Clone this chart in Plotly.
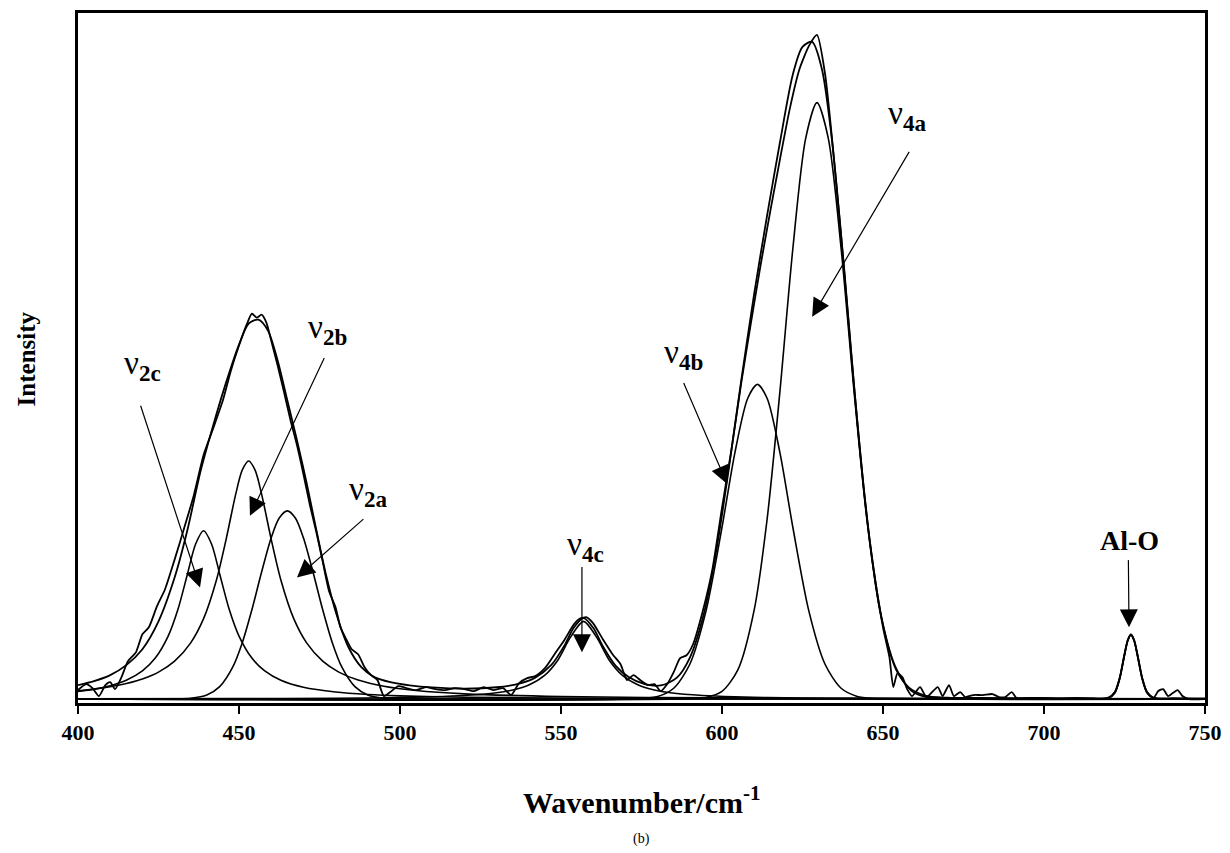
import plotly.graph_objects as go

# ---------------- data (wavenumber in cm-1, intensity in arbitrary units) ----------------
nu2c_x = [400, 405, 410, 415, 420, 424, 428, 431, 434, 436.5, 439, 441.5, 444, 447, 450, 454, 458, 463, 470, 480, 490, 500, 520, 550, 600, 650, 700, 750]
nu2c_y = [7.7, 9.9, 13.4, 18.8, 28.2, 41.1, 63.2, 89.6, 125.6, 155.5, 169, 155.5, 125.6, 89.6, 63.2, 41.1, 28.2, 18.8, 11.8, 7.0, 4.6, 3.2, 1.8, 1.0, 0.5, 0.3, 0.2, 0.1]

nu2b_x = [400, 405, 410, 415, 420, 425, 430, 435, 439, 443, 446, 449, 451, 453, 455, 457, 460, 463, 467, 471, 476, 481, 487, 495, 505, 520, 550, 600, 650, 700, 750]
nu2b_y = [8.2, 9.9, 12.3, 15.5, 20.1, 27.0, 38.0, 56.4, 80.7, 119.5, 160.4, 206, 229.8, 239, 229.8, 206, 160.4, 119.5, 80.7, 56.4, 38.0, 27.0, 19.0, 12.8, 8.5, 5.2, 2.5, 1.1, 0.6, 0.4, 0.3]

nu2a_x = [400, 430, 435, 440, 444, 448, 451, 454, 457, 460, 462.5, 465, 467.5, 470, 473, 476, 479, 482, 486, 490, 495, 500, 750]
nu2a_y = [0, 0.1, 0.7, 4.0, 12.4, 31.7, 56.3, 89.6, 127.3, 162, 181.8, 189, 181.8, 162, 127.3, 89.6, 56.3, 31.7, 12.4, 4.0, 0.7, 0.1, 0]

nu4c_x = [400, 450, 480, 500, 510, 520, 530, 535, 540, 545, 549, 553, 557, 561, 565, 569, 574, 579, 584, 594, 604, 614, 634, 660, 700, 750]
nu4c_y = [0.2, 0.4, 0.8, 1.5, 2.2, 3.5, 6.3, 9.1, 14.1, 24.0, 39.0, 62.4, 78, 62.4, 39.0, 24.0, 14.1, 9.1, 6.3, 3.5, 2.2, 1.5, 0.8, 0.5, 0.2, 0.1]

nu4b_x = [400, 570, 580, 585, 590, 595, 600, 604, 608, 611, 614, 618, 622, 627, 632, 637, 642, 647, 655, 750]
nu4b_y = [0, 0, 2.6, 10.8, 34.9, 88, 172.5, 247.3, 302.1, 316, 302.1, 247.3, 172.5, 88, 34.9, 10.8, 2.6, 0.5, 0, 0]

nu4a_x = [400, 590, 595, 600, 605, 610, 614, 618, 622, 626, 629.5, 633, 637, 641, 645, 649, 654, 659, 664, 670, 750]
nu4a_y = [0, 0.2, 1.6, 7.7, 29.8, 89.5, 180.3, 309.2, 452.2, 563.4, 599, 563.4, 452.2, 309.2, 180.3, 89.5, 29.8, 7.7, 1.6, 0.2, 0]

alo_x = [400, 715, 720, 722, 723.5, 725, 726, 727, 728, 729, 730.5, 732, 734, 740, 750]
alo_y = [0, 0, 0.6, 6.0, 20.1, 43.9, 58.2, 64, 58.2, 43.9, 20.1, 6.0, 0.6, 0, 0]

fit_x = [400, 405, 410, 415, 420, 425, 430, 434, 438, 442, 446, 450, 453, 456, 459, 462, 465, 468, 471, 474,
         477, 480, 484, 488, 492, 497, 503, 510, 520, 530, 537, 542, 547, 551, 554, 557, 560, 563, 567, 571,
         576, 581, 586, 590, 594, 598, 602, 606, 610, 614, 618, 622, 625, 628, 631, 634, 637, 640, 643, 646,
         650, 654, 658, 663, 670, 680, 700, 715, 720, 722, 723.5, 725, 726, 727, 728, 729, 730.5, 732, 734, 740, 750]
fit_y = [14, 18, 24, 34, 50, 78, 122, 170, 228, 275, 318, 356, 377, 381, 370, 340, 300, 260, 217, 170,
         125, 88, 52, 32, 22, 17, 13.8, 11.7, 10.5, 11.8, 15.4, 21.5, 34.2, 53.4, 71.8, 81.3, 71.5, 53.0, 33.2, 22.0,
         14.9, 13.6, 21.5, 41.4, 80.9, 144.6, 228.6, 320.5, 407.1, 485.4, 559.2, 627.3, 655, 660, 633, 565.7, 464.9, 351.7, 244.6, 155.8,
         75.0, 31.3, 11.7, 3.5, 1.3, 1.0, 0.9, 0.8, 1.4, 6.8, 20.9, 44.7, 59.0, 64.8, 59.0, 44.7, 20.9, 6.8, 1.4, 0.8, 0.7]

exp_x = [400, 402.5, 404.5, 406.5, 408.5, 410, 411.5, 413.5, 415.5, 418, 420, 422, 424.5, 427, 430, 433, 436, 439, 442, 445,
         447.5, 450, 452.5, 454, 455.5, 457, 458.5, 460, 462, 464, 466, 468, 470, 472, 474, 476, 478, 480, 481.5, 483,
         485, 487, 489, 491, 493, 495, 497, 499.5, 502, 505, 508, 511, 514, 517, 520, 523, 526, 529, 532, 534.5,
         537, 539.5, 542, 545, 548, 551, 554, 556, 558, 560, 563, 566, 568.5, 570.5, 572.5, 575, 577, 579, 581, 583,
         585, 587, 589, 591, 594, 597, 600, 603, 606, 609, 612, 615, 618, 621, 624, 627, 629.5, 632, 635, 638,
         641, 644, 647, 650, 652, 653.2, 654.5, 656, 657.5, 659, 661.5, 663.5, 667, 668.5, 670.5, 672, 674, 675.5, 678, 681,
         684, 686, 688, 690, 691.5, 695, 700, 705, 710, 715, 720, 722, 723.5, 725, 726, 727, 728, 729, 730.5, 732,
         734, 735.5, 737, 738.5, 740, 741.5, 743, 745, 750]
exp_y = [9, 15, 11, 3, 14, 17, 10, 22, 38, 47, 65, 72, 93, 110, 140, 172, 205, 245, 272, 300,
         330, 355, 377, 387, 383, 386, 378, 360, 335, 308, 280, 255, 226, 195, 168, 138, 108, 92, 72, 62,
         50, 45, 32, 24, 19, 3, 7, 13, 11, 9, 12, 10, 9, 11, 10, 8, 12, 9, 11, 4,
         16, 21, 23, 31, 45, 59, 75, 81, 82, 76, 60, 45, 35, 19, 24, 18, 14, 15, 8, 15,
         27, 41, 44, 55, 88, 130, 192, 252, 318, 378, 436, 490, 542, 592, 632, 656, 667, 628, 535, 430,
         315, 212, 132, 72, 42, 12, 26, 22, 10, 3, 12, 2, 12, 3, 14, 3, 7, 2, 4, 4,
         5, 2, 2, 7, 1, 1, 1, 0, 1, 0, 1, 7, 21, 45, 59, 65, 59, 45, 21, 7,
         1, 8, 10, 3, 6, 9, 3, 0, 0]

x_ticks = [400, 450, 500, 550, 600, 650, 700, 750]

# annotation labels: (text, label x, label y, arrow tail x, tail y, arrow tip x, tip y)
labels = [
    ("ν<sub><b>2c</b></sub>", 419.9, 335, 419.3, 296, 437.9, 112),
    ("ν<sub><b>2b</b></sub>", 477.6, 371, 476.7, 344, 453.4, 184),
    ("ν<sub><b>2a</b></sub>", 490.1, 208, 489.1, 182, 468.0, 122),
    ("ν<sub><b>4c</b></sub>", 557.5, 153, 556.5, 134, 556.5, 47),
    ("ν<sub><b>4b</b></sub>", 587.9, 346, 587.9, 319, 601.6, 216),
    ("ν<sub><b>4a</b></sub>", 657.5, 586, 658.4, 551, 628.0, 384),
]
alo_label = ("Al-O", 726.7, 159, 726.2, 141, 726.4, 72)

# ---------------- figure ----------------
SERIF = "Liberation Serif, Times New Roman, serif"
fig = go.Figure()

components = [(nu2c_x, nu2c_y), (nu2b_x, nu2b_y), (nu2a_x, nu2a_y), (nu4c_x, nu4c_y),
              (nu4b_x, nu4b_y), (nu4a_x, nu4a_y), (alo_x, alo_y)]
for xs, ys in components:
    fig.add_trace(go.Scatter(x=xs, y=ys, mode="lines",
                             line=dict(color="black", width=1.6, shape="spline", smoothing=0.8),
                             showlegend=False, hoverinfo="skip"))

fig.add_trace(go.Scatter(x=fit_x, y=fit_y, mode="lines",
                         line=dict(color="black", width=1.8, shape="spline", smoothing=0.8),
                         showlegend=False, hoverinfo="skip"))
fig.add_trace(go.Scatter(x=exp_x, y=exp_y, mode="lines",
                         line=dict(color="black", width=1.8, shape="spline", smoothing=0.6),
                         showlegend=False, hoverinfo="skip"))

annotations = []
for text, lx, ly, tx, ty, hx, hy in labels:
    annotations.append(dict(x=hx, y=hy, ax=tx, ay=ty, xref="x", yref="y", axref="x", ayref="y",
                            text="", showarrow=True, arrowhead=2, arrowsize=3, arrowwidth=1.2,
                            arrowcolor="black"))
    annotations.append(dict(x=lx, y=ly, xref="x", yref="y", text=text, showarrow=False,
                            font=dict(family=SERIF, size=33, color="black")))
text, lx, ly, tx, ty, hx, hy = alo_label
annotations.append(dict(x=hx, y=hy, ax=tx, ay=ty, xref="x", yref="y", axref="x", ayref="y",
                        text="", showarrow=True, arrowhead=2, arrowsize=3, arrowwidth=1.2,
                        arrowcolor="black"))
annotations.append(dict(x=lx, y=ly, xref="x", yref="y", text=text, showarrow=False,
                        font=dict(family=SERIF, size=28, color="black", weight="bold")))

annotations.append(dict(x=0.5, y=-0.14, xref="paper", yref="paper", showarrow=False,
                        text="Wavenumber/cm<sup>-1</sup>", yanchor="middle",
                        font=dict(family=SERIF, size=30, color="black", weight="bold")))
annotations.append(dict(x=0.5, y=-0.1977, xref="paper", yref="paper", showarrow=False,
                        text="(b)", yanchor="middle",
                        font=dict(family=SERIF, size=14, color="black")))
annotations.append(dict(x=-0.0455, y=0.499, xref="paper", yref="paper", showarrow=False,
                        text="Intensity", textangle=-90, xanchor="center", yanchor="middle",
                        font=dict(family=SERIF, size=25, color="black", weight="bold")))

# the page body keeps an 8 px browser margin, so the figure is sized to fit inside it
fig.update_layout(
    width=1222, height=845,
    margin=dict(l=70, r=25, t=2, b=150),
    paper_bgcolor="white", plot_bgcolor="white",
    showlegend=False,
    annotations=annotations,
    xaxis=dict(range=[400, 750], tickvals=x_ticks, ticktext=[str(v) for v in x_ticks],
               ticks="outside", ticklen=8, tickwidth=2, tickcolor="black",
               showline=True, linewidth=2.5, linecolor="black", mirror=True,
               showgrid=False, zeroline=False,
               tickfont=dict(family=SERIF, size=22, color="black", weight="bold")),
    yaxis=dict(range=[-4, 689], showticklabels=False, ticks="",
               showline=True, linewidth=2.5, linecolor="black", mirror=True,
               showgrid=False, zeroline=False),
)

fig.write_html("out.html")
